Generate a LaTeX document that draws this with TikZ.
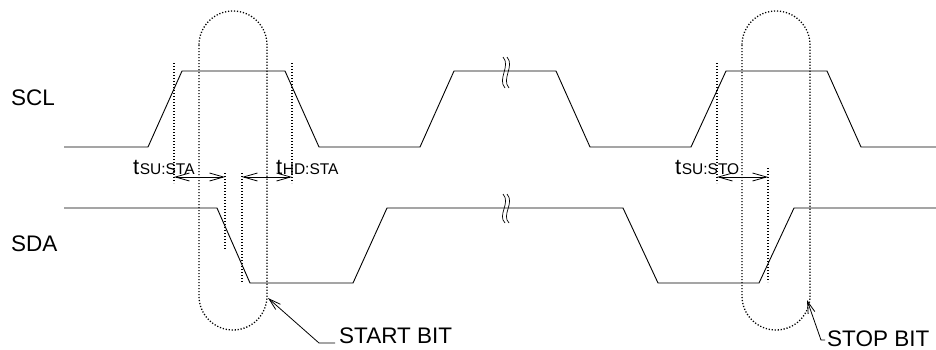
\documentclass[tikz,border=0pt]{standalone}
\usepackage{fontspec}
\setmainfont{Liberation Sans}
\usetikzlibrary{arrows.meta}
\begin{document}
\begin{tikzpicture}[x=1pt,y=-1pt,
  wave/.style={line width=0.9pt, line join=miter},
  guide/.style={line width=1.3pt, dash pattern=on 1.2pt off 1.8pt},
  oval/.style={guide, rounded corners=34pt},
  meas/.style={line width=0.8pt, {Straight Barb[length=14pt,width=8pt]}-{Straight Barb[length=14pt,width=8pt]}},
  lead/.style={line width=0.8pt, {Straight Barb[length=12pt,width=7pt]}-},
  big/.style={font=\fontsize{22.5}{27}\selectfont, inner sep=0pt, anchor=base west},
  tlab/.style={inner sep=0pt, anchor=base west},
  brk/.style={line width=0.7pt}
]
\useasboundingbox (0,0) rectangle (936,349);
\newcommand{\tlabel}[1]{{\fontsize{22}{24}\selectfont t}\kern0.5pt{\fontsize{15.5}{17}\selectfont #1}}
% waveforms
\draw[wave] (64,147) -- (148,147) -- (182,71) -- (285,71) -- (319,147) -- (420,147) -- (454,71) -- (556,71) -- (590,147) -- (691,147) -- (726,71) -- (827,71) -- (861,147) -- (936,147);
\draw[wave] (64,208) -- (217,208) -- (250,283) -- (353,283) -- (387,208) -- (623,208) -- (658,283) -- (759,283) -- (794,208) -- (936,208);
% break marks
\foreach \c in {504,508} {
  \draw[brk] (\c-1,57) .. controls (\c+7,66) and (\c-7,79) .. (\c+1,88);
  \draw[brk] (\c-1,194) .. controls (\c+7,203) and (\c-7,215) .. (\c+1,223);
}
% labels
\node[big] (scl) at (11,105) {SCL};
\node[big] (sda) at (11,251) {SDA};
% guide lines
\coordinate (v1t) at (174,63);  \coordinate (v1b) at (174,183);
\coordinate (v2t) at (292,63);  \coordinate (v2b) at (292,183);
\coordinate (v3t) at (225,173); \coordinate (v3b) at (225,250);
\coordinate (v4t) at (242,173); \coordinate (v4b) at (242,282);
\coordinate (v5t) at (717,63);  \coordinate (v5b) at (717,183);
\coordinate (v6t) at (768,168); \coordinate (v6b) at (768,282);
\foreach \v in {v1,v2,v3,v4,v5,v6} \draw[guide] (\v t) -- (\v b);
% ovals
\draw[oval] (199,11) rectangle (267,330);
\draw[oval] (742,11) rectangle (810,330);
% measurement arrows
\coordinate (ay) at (0,177);
\draw[meas] (v1t |- ay) -- (v3t |- ay);
\draw[meas] (v4t |- ay) -- (v2t |- ay);
\draw[meas] (v5t |- ay) -- (v6t |- ay);
\node[tlab] (tsusta) at (133,174) {\tlabel{SU:STA}};
\node[tlab] (thdsta) at (276,174) {\tlabel{HD:STA}};
\node[tlab] (tsusto) at (675,174) {\tlabel{SU:STO}};
% START BIT
\coordinate (sbtip) at (268,298);
\coordinate (sbk) at (319,343);
\coordinate (sbe) at (335,343);
\node[big] (sbtext) at (339,343) {START BIT};
\draw[lead] (sbtip) -- (sbk) -- (sbe);
% STOP BIT
\coordinate (pbtip) at (807,300);
\coordinate (pbk) at (821,340);
\coordinate (pbe) at (825,340);
\node[big] (pbtext) at (827,346) {STOP BIT};
\draw[lead] (pbtip) -- (pbk) -- (pbe);
\end{tikzpicture}
\end{document}
